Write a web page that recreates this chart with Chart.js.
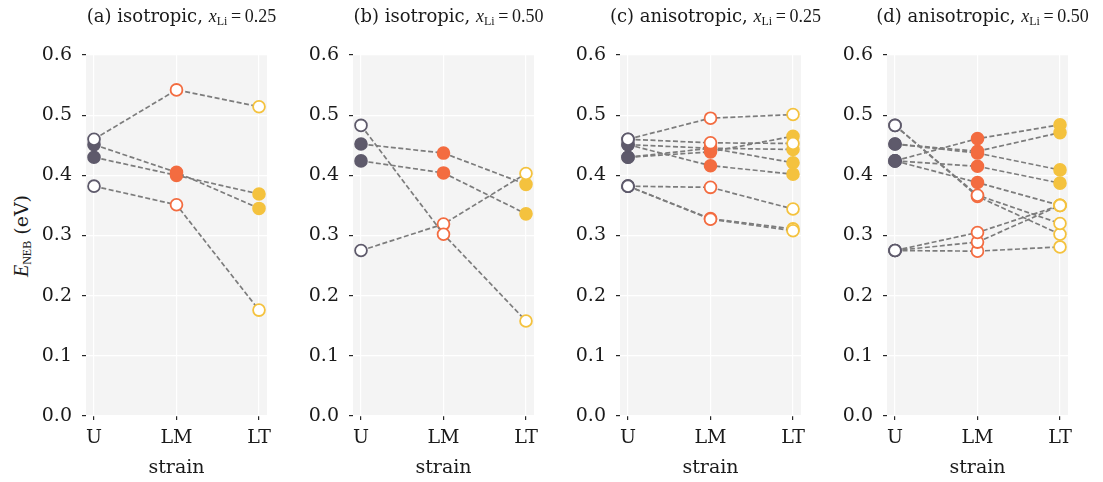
<!DOCTYPE html>
<html>
<head>
<meta charset="utf-8">
<script src="https://cdn.jsdelivr.net/npm/chart.js@4.4.0/dist/chart.umd.min.js"></script>
<style>
  html, body { margin: 0; padding: 0; background: #fff; }
  #wrap { position: relative; width: 1103px; height: 482px; overflow: hidden; }
  .panel { position: absolute; top: 0; }
  .ptitle { position: absolute; top: 5px; width: 320px; line-height: 22px; text-align: center;
            font-family: 'DejaVu Serif'; font-size: 18px; color: #1a1a1a; white-space: nowrap; }
  .m { font-family: 'Liberation Serif'; font-size: 18px; }
  .m i { font-style: italic; }
  .m sub { font-size: 12px; vertical-align: -3px; line-height: 0; }
  #ylab { position: absolute; left: 21px; top: 236px; transform: translate(-50%, -50%) rotate(-90deg);
          font-family: 'DejaVu Serif'; font-size: 19px; color: #1a1a1a; white-space: nowrap; }
</style>
</head>
<body>
<div id="wrap">
  <div id="ylab"><span class="m" style="font-size:20px"><i>E</i><sub>NEB</sub></span> (eV)</div>
</div>
<script>
// categories and ticks
const strainLabels = ['U', 'LM', 'LT'];
const yTicks = [0.0, 0.1, 0.2, 0.3, 0.4, 0.5, 0.6];

// (a) isotropic, x_Li = 0.25  -- one row per path: [U, LM, LT]
const isoLow = [
    [0.460, 0.542, 0.514],
    [0.451, 0.405, 0.345],
    [0.430, 0.400, 0.369],
    [0.382, 0.351, 0.176],
];
const isoLowFilled = [[0, 0, 0], [1, 1, 1], [1, 1, 1], [0, 0, 0]];

// (b) isotropic, x_Li = 0.50
const isoHigh = [
    [0.483, 0.302, 0.158],
    [0.275, 0.319, 0.403],
    [0.452, 0.437, 0.385],
    [0.424, 0.404, 0.336],
];
const isoHighFilled = [[0, 0, 0], [0, 0, 0], [1, 1, 1], [1, 1, 1]];

// (c) anisotropic, x_Li = 0.25
const anisoLow = [
    [0.460, 0.495, 0.501],
    [0.460, 0.454, 0.453],
    [0.382, 0.380, 0.344],
    [0.382, 0.327, 0.308],
    [0.382, 0.328, 0.311],
    [0.451, 0.416, 0.402],
    [0.451, 0.445, 0.443],
    [0.430, 0.439, 0.465],
    [0.430, 0.445, 0.421],
];
const anisoLowFilled = [[0, 0, 0], [0, 0, 0], [0, 0, 0], [0, 0, 0], [0, 0, 0],
                        [1, 1, 1], [1, 1, 1], [1, 1, 1], [1, 1, 1]];

// (d) anisotropic, x_Li = 0.50
const anisoHigh = [
    [0.483, 0.367, 0.320],
    [0.483, 0.365, 0.302],
    [0.275, 0.305, 0.350],
    [0.275, 0.289, 0.350],
    [0.275, 0.274, 0.281],
    [0.424, 0.461, 0.484],
    [0.452, 0.440, 0.471],
    [0.452, 0.437, 0.409],
    [0.424, 0.415, 0.387],
    [0.424, 0.388, 0.350],
];
const anisoHighFilled = [[0, 0, 0], [0, 0, 0], [0, 0, 0], [0, 0, 0], [0, 0, 0],
                         [1, 1, 1], [1, 1, 1], [1, 1, 1], [1, 1, 1], [1, 1, 0]];

const strainColors = ['#5e5a6b', '#f36c40', '#f4c23e'];

const panels = [
    { tag: '(a) isotropic,', xli: '0.25', series: isoLow, filled: isoLowFilled, left: 86 },
    { tag: '(b) isotropic,', xli: '0.50', series: isoHigh, filled: isoHighFilled, left: 353 },
    { tag: '(c) anisotropic,', xli: '0.25', series: anisoLow, filled: anisoLowFilled, left: 620 },
    { tag: '(d) anisotropic,', xli: '0.50', series: anisoHigh, filled: anisoHighFilled, left: 887 },
];

const AXIS_W = 70;      // room for y tick labels
const PLOT_W = 181;
const BOTTOM_H = 66;    // x ticks + "strain"
const FONT = { family: 'DejaVu Serif', size: 19 };

// grey plot background under the grid
const plotBackground = {
    id: 'plotBackground',
    beforeDraw(chart) {
        const { ctx, chartArea: a } = chart;
        ctx.save();
        ctx.fillStyle = '#f4f4f4';
        ctx.fillRect(a.left, a.top, a.right - a.left, a.bottom - a.top);
        ctx.restore();
    }
};

const wrap = document.getElementById('wrap');

panels.forEach((p) => {
    const canvas = document.createElement('canvas');
    canvas.className = 'panel';
    canvas.width = AXIS_W + PLOT_W + 12;
    canvas.height = 482;
    canvas.style.left = (p.left - AXIS_W) + 'px';
    wrap.appendChild(canvas);

    const title = document.createElement('div');
    title.className = 'ptitle';
    title.style.left = (p.left + PLOT_W / 2 - 160 + 5) + 'px';
    title.innerHTML = p.tag + ' <span class="m"><i>x</i><sub>Li</sub>&thinsp;=&thinsp;' + p.xli + '</span>';
    wrap.appendChild(title);

    const datasets = p.series.map((row, i) => ({
        data: row.map((v, j) => ({ x: j, y: v })),
        borderColor: '#7c7c7c',
        borderWidth: 1.7,
        borderDash: [5, 2.5],
        pointRadius: 5.9,
        pointBorderWidth: 1.8,
        pointBorderColor: strainColors,
        pointBackgroundColor: p.filled[i].map((f, j) => f ? strainColors[j] : '#ffffff'),
        tension: 0,
    }));

    new Chart(canvas.getContext('2d'), {
        type: 'line',
        data: { datasets },
        options: {
            responsive: false,
            animation: false,
            layout: { padding: { top: 55, right: 12, bottom: 0, left: 0 } },
            plugins: { legend: { display: false }, tooltip: { enabled: false } },
            scales: {
                x: {
                    type: 'linear',
                    min: -0.097,
                    max: 2.097,
                    afterBuildTicks: (s) => { s.ticks = [0, 1, 2].map((v) => ({ value: v })); },
                    afterFit: (s) => { s.height = BOTTOM_H; },
                    ticks: {
                        callback: (v) => strainLabels[v],
                        font: FONT, color: '#1a1a1a', padding: 7, maxRotation: 0, autoSkip: false,
                    },
                    grid: { color: '#ffffff', lineWidth: 1.2, tickColor: '#262626', tickLength: 4, tickWidth: 1.2 },
                    border: { display: false },
                    title: { display: true, text: 'strain', font: FONT, color: '#1a1a1a', padding: { top: 0, bottom: 3 } },
                },
                y: {
                    min: 0,
                    max: 0.6,
                    afterBuildTicks: (s) => { s.ticks = yTicks.map((v) => ({ value: v })); },
                    afterFit: (s) => { s.width = AXIS_W; },
                    ticks: { callback: (v) => v.toFixed(1), font: FONT, color: '#1a1a1a', padding: 10 },
                    grid: { color: '#ffffff', lineWidth: 1.2, tickColor: '#262626', tickLength: 4, tickWidth: 1.2 },
                    border: { display: false },
                },
            },
        },
        plugins: [plotBackground],
    });
});
</script>
</body>
</html>
